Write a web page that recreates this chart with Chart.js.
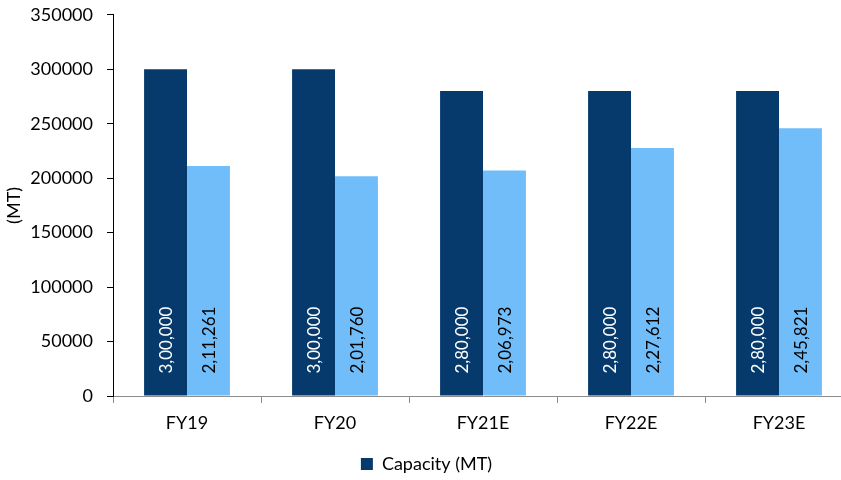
<!DOCTYPE html>
<html>
<head>
<meta charset="utf-8">
<script src="https://cdn.jsdelivr.net/npm/chart.js@4"></script>
<style>
  html, body { margin: 0; padding: 0; background: #fff; overflow: hidden; }
  #wrap { position: relative; top: -10px; width: 860px; height: 493px; }
</style>
</head>
<body>
<div id="wrap"><canvas id="chart1"></canvas></div>
<script>
var categories = ['FY19', 'FY20', 'FY21E', 'FY22E', 'FY23E'];
var capacity = [300000, 300000, 280000, 280000, 280000];
var production = [211261, 201760, 206973, 227612, 245821];
var yTicks = [0, 50000, 100000, 150000, 200000, 250000, 300000, 350000];

var FONT = 'Lato, "Noto Sans", sans-serif';

// indian style grouping: 3,00,000 / 2,11,261
function inrFormat(n) {
    var s = String(n);
    var last3 = s.slice(-3);
    var rest = s.slice(0, -3);
    if (rest.length) rest = rest.replace(/\B(?=(\d{2})+(?!\d))/g, ',') + ',';
    return rest + last3;
}

// vertical labels sitting at the base of each bar
var barLabels = {
    id: 'barLabels',
    afterDatasetsDraw: function(chart) {
        var ctx = chart.ctx;
        chart.data.datasets.forEach(function(ds, i) {
            var meta = chart.getDatasetMeta(i);
            meta.data.forEach(function(bar, j) {
                ctx.save();
                ctx.translate(bar.x, bar.base - 22);
                ctx.rotate(-Math.PI / 2);
                ctx.font = '17px ' + FONT;
                ctx.fillStyle = ds.labelColor;
                ctx.textAlign = 'left';
                ctx.textBaseline = 'middle';
                ctx.fillText(inrFormat(ds.data[j]), 0, 1);
                ctx.restore();
            });
        });
    }
};

var ctx = document.getElementById('chart1');
var myChart = new Chart(ctx, {
    type: 'bar',
    data: {
        labels: categories,
        datasets: [{
            label: 'Capacity (MT)',
            data: capacity,
            backgroundColor: '#063a6c',
            labelColor: '#ffffff',
            barPercentage: 1,
            categoryPercentage: 0.58
        }, {
            label: 'Production (MT)',
            data: production,
            backgroundColor: '#70bdfa',
            labelColor: '#000000',
            barPercentage: 1,
            categoryPercentage: 0.58
        }]
    },
    options: {
        responsive: true,
        maintainAspectRatio: false,
        animation: false,
        layout: { padding: { top: 0, right: 7, left: 0, bottom: 0 } },
        plugins: {
            tooltip: { enabled: false },
            legend: {
                position: 'bottom',
                labels: {
                    filter: function(item) { return item.datasetIndex === 0; },
                    boxWidth: 12,
                    boxHeight: 12,
                    color: '#000',
                    font: { family: FONT, size: 18 },
                    padding: 2
                }
            }
        },
        scales: {
            x: {
                afterFit: function(scale) { scale.height = 57; },
                grid: {
                    offset: true,
                    drawOnChartArea: false,
                    tickLength: 7,
                    color: '#8c8c8c'
                },
                border: { color: '#8c8c8c' },
                ticks: {
                    color: '#000',
                    font: { family: FONT, size: 18 },
                    padding: 9
                }
            },
            y: {
                min: 0,
                max: 350000,
                afterBuildTicks: function(scale) {
                    scale.ticks = yTicks.map(function(v) { return { value: v }; });
                },
                afterFit: function(scale) { scale.width = 113; },
                grid: {
                    drawOnChartArea: false,
                    tickLength: 6,
                    color: '#000'
                },
                border: { color: '#000' },
                ticks: {
                    color: '#000',
                    font: { family: FONT, size: 18 },
                    padding: 14,
                    callback: function(v) { return String(v); }
                },
                title: {
                    display: true,
                    text: '(MT)',
                    color: '#000',
                    font: { family: FONT, size: 18 },
                    padding: { top: 3, bottom: 0 }
                }
            }
        }
    },
    plugins: [barLabels]
});
</script>
</body>
</html>
